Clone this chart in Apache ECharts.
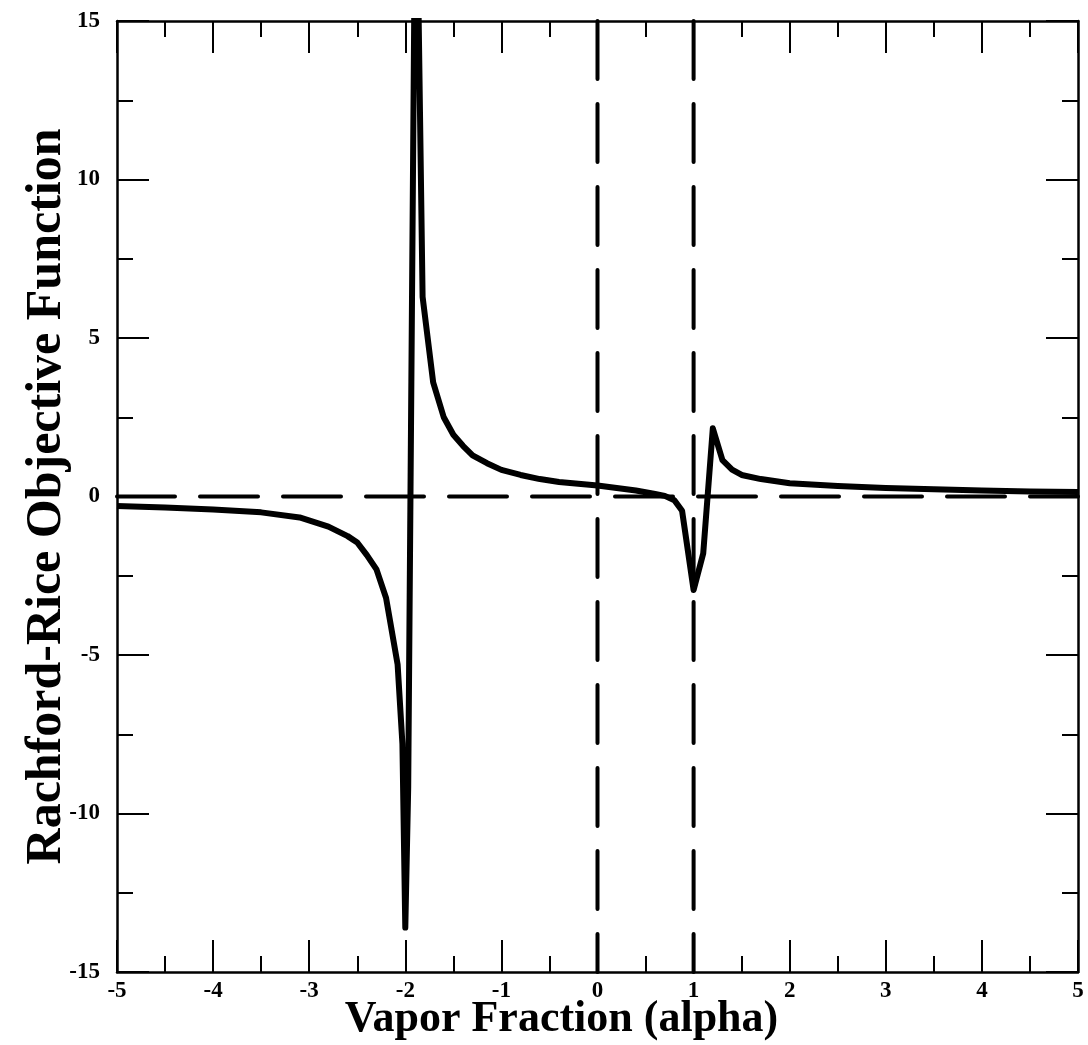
<!DOCTYPE html>
<html>
<head>
<meta charset="utf-8">
<script src="https://cdn.jsdelivr.net/npm/echarts@6/dist/echarts.min.js"></script>
<style>
html,body{margin:0;padding:0;background:#fff;overflow:hidden;}
#chart{width:1088px;height:1045px;}
</style>
</head>
<body>
<div id="chart"></div>
<script>
// Rachford-Rice objective function curve (alpha, value)
const alphaValues = [-5, -4.5, -4, -3.5, -3.1, -2.8, -2.6, -2.5, -2.4, -2.3, -2.2, -2.08, -2.03, -2.0, -1.97, -1.9,
  -1.87, -1.82, -1.71, -1.6, -1.5, -1.4, -1.3, -1.15, -1.0, -0.8, -0.6, -0.4, -0.2, 0, 0.2, 0.4, 0.6, 0.7, 0.8, 0.88,
  1.0, 1.1, 1.2, 1.3, 1.4, 1.5, 1.7, 2.0, 2.5, 3.0, 3.5, 4.0, 4.5, 5.0];
const objectiveValues = [-0.30, -0.35, -0.41, -0.50, -0.66, -0.95, -1.25, -1.45, -1.85, -2.3, -3.2, -5.3, -7.8, -13.6, -9.2, 18,
  17, 6.3, 3.6, 2.5, 1.95, 1.6, 1.3, 1.05, 0.84, 0.68, 0.55, 0.46, 0.40, 0.35, 0.27, 0.19, 0.08, 0.02, -0.12, -0.45,
  -2.95, -1.8, 2.15, 1.15, 0.85, 0.68, 0.55, 0.42, 0.33, 0.27, 0.23, 0.19, 0.16, 0.14];
// reference dashed lines
const zeroLine = [[-5, 0], [5, 0]];
const poleLine0 = [[0, 15], [0, -15]];
const poleLine1 = [[1, 15], [1, -15]];
const xTitle = 'Vapor Fraction (alpha)';
const yTitle = 'Rachford-Rice Objective Function';

const curve = alphaValues.map((a, i) => [a, objectiveValues[i]]);
const fontFam = '"Liberation Serif", "DejaVu Serif", serif';
const tickStyle = {show: true, inside: true, length: 32, lineStyle: {color: '#000', width: 2}};
const minorStyle = {show: true, splitNumber: 2, length: 16, lineStyle: {color: '#000', width: 2}};
const lineAx = {show: true, onZero: false, lineStyle: {color: '#000', width: 2.5}};
const lblStyle = {color: '#000', fontFamily: fontFam, fontWeight: 'bold', fontSize: 23};

const chart = echarts.init(document.getElementById('chart'));
chart.setOption({
  backgroundColor: '#fff',
  animation: false,
  grid: {left: 117, right: 10, top: 21, bottom: 73, outerBoundsMode: 'none', containLabel: false},
  xAxis: [
    {type: 'value', min: -5, max: 5, interval: 1, position: 'bottom',
     axisLine: lineAx, axisTick: tickStyle, minorTick: minorStyle, splitLine: {show: false},
     axisLabel: Object.assign({margin: 8}, lblStyle),
     name: xTitle, nameLocation: 'middle', nameGap: 26, nameMoveOverlap: false,
     nameTextStyle: {color: '#000', fontFamily: fontFam, fontWeight: 'bold', fontSize: 44, padding: [0, 72, 0, 0]}},
    {type: 'value', min: -5, max: 5, interval: 1, position: 'top',
     axisLine: lineAx, axisTick: tickStyle, minorTick: minorStyle, splitLine: {show: false},
     axisLabel: {show: false}}
  ],
  yAxis: [
    {type: 'value', min: -15, max: 15, interval: 5, position: 'left',
     axisLine: lineAx, axisTick: tickStyle, minorTick: minorStyle, splitLine: {show: false},
     axisLabel: Object.assign({margin: 17}, lblStyle),
     name: yTitle, nameLocation: 'middle', nameGap: 45, nameRotate: 90, nameMoveOverlap: false,
     nameTextStyle: {color: '#000', fontFamily: fontFam, fontWeight: 'bold', fontSize: 50}},
    {type: 'value', min: -15, max: 15, interval: 5, position: 'right',
     axisLine: lineAx, axisTick: tickStyle, minorTick: minorStyle, splitLine: {show: false},
     axisLabel: {show: false}}
  ],
  series: [
    {type: 'line', data: zeroLine, symbol: 'none', silent: true,
     lineStyle: {color: '#000', width: 4, type: [58, 25], cap: 'round'}},
    {type: 'line', data: poleLine0, symbol: 'none', silent: true,
     lineStyle: {color: '#000', width: 4, type: [58, 25], cap: 'round'}},
    {type: 'line', data: poleLine1, symbol: 'none', silent: true,
     lineStyle: {color: '#000', width: 4, type: [58, 25], cap: 'round'}},
    {type: 'line', data: curve, symbol: 'none', clip: true, z: 5,
     lineStyle: {color: '#000', width: 6, join: 'round'}}
  ]
});
</script>
</body>
</html>
